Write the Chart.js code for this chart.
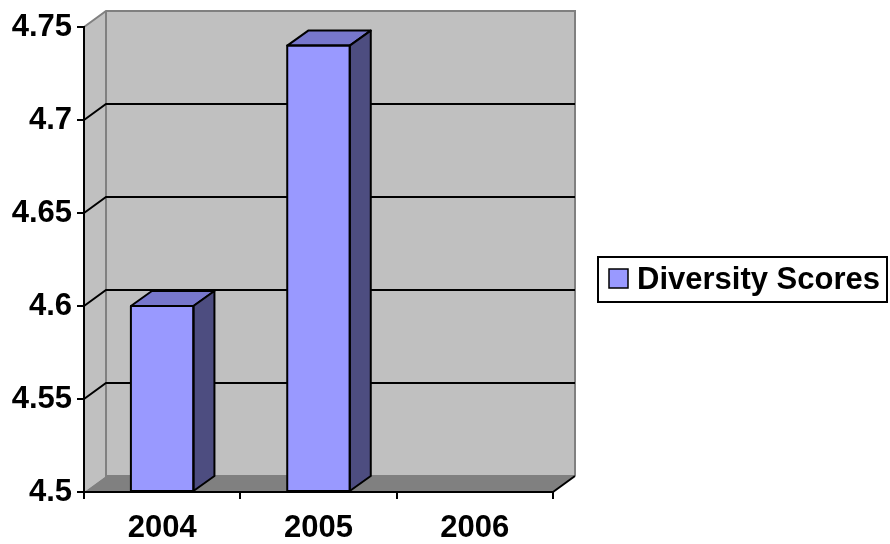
<!DOCTYPE html>
<html>
<head>
<meta charset="utf-8">
<script src="https://cdn.jsdelivr.net/npm/chart.js@4/dist/chart.umd.min.js"></script>
<style>
  html, body { margin: 0; padding: 0; background: #ffffff; }
  #wrap { width: 890px; height: 544px; }
</style>
</head>
<body>
<div id="wrap"><canvas id="c" width="890" height="544"></canvas></div>
<script>
// Chart data
const years = ['2004', '2005', '2006'];
const diversityScores = [4.6, 4.74, null];
const yTickValues = [4.5, 4.55, 4.6, 4.65, 4.7, 4.75];
const yTickLabels = ['4.5', '4.55', '4.6', '4.65', '4.7', '4.75'];
const seriesName = 'Diversity Scores';

const FONT = "Arial, 'Liberation Sans', Helvetica, sans-serif";
const FONT_SIZE = 31;
const FACE = '#9999FF', TOP = '#7777CC', SIDE = '#4D4D80';
const WALL = '#C0C0C0', FLOOR = '#808080', WALL_EDGE = '#808080';
const WALL_DX = 22, WALL_DY = 16;   // depth of the back wall
const BAR_DX = 21, BAR_DY = 15;     // depth of each column

// Side wall, back wall, floor and the wall gridlines
const wallsPlugin = {
  id: 'walls',
  beforeDraw(chart) {
    const { ctx, chartArea: a, scales: { y } } = chart;
    const L = a.left, R = a.right, T = a.top, B = a.bottom;
    ctx.save();
    // back wall
    ctx.fillStyle = WALL;
    ctx.fillRect(L + WALL_DX, T - WALL_DY, R - L, B - T);
    // left side wall
    ctx.beginPath();
    ctx.moveTo(L, T); ctx.lineTo(L + WALL_DX, T - WALL_DY);
    ctx.lineTo(L + WALL_DX, B - WALL_DY); ctx.lineTo(L, B);
    ctx.closePath(); ctx.fill();
    // floor
    ctx.fillStyle = FLOOR;
    ctx.beginPath();
    ctx.moveTo(L, B); ctx.lineTo(R, B);
    ctx.lineTo(R + WALL_DX, B - WALL_DY); ctx.lineTo(L + WALL_DX, B - WALL_DY);
    ctx.closePath(); ctx.fill();
    // wall outline
    ctx.strokeStyle = WALL_EDGE; ctx.lineWidth = 2;
    ctx.beginPath();
    ctx.moveTo(L, T); ctx.lineTo(L + WALL_DX, T - WALL_DY);
    ctx.lineTo(R + WALL_DX, T - WALL_DY); ctx.lineTo(R + WALL_DX, B - WALL_DY);
    ctx.moveTo(L + WALL_DX, T - WALL_DY); ctx.lineTo(L + WALL_DX, B - WALL_DY);
    ctx.lineTo(R + WALL_DX, B - WALL_DY);
    ctx.stroke();
    // gridlines across side wall and back wall
    ctx.strokeStyle = '#000000'; ctx.lineWidth = 2;
    yTickValues.forEach(v => {
      if (v === y.min || v === y.max) return;
      const py = Math.round(y.getPixelForValue(v));
      ctx.beginPath();
      ctx.moveTo(L, py); ctx.lineTo(L + WALL_DX, py - WALL_DY);
      ctx.lineTo(R + WALL_DX, py - WALL_DY);
      ctx.stroke();
    });
    // front floor edge on the right
    ctx.beginPath();
    ctx.moveTo(R, B); ctx.lineTo(R + WALL_DX, B - WALL_DY);
    ctx.stroke();
    ctx.restore();
  }
};

// Top and side faces of each column, taken from the bar elements
const depthPlugin = {
  id: 'depth',
  afterDatasetsDraw(chart) {
    const { ctx } = chart;
    ctx.save();
    ctx.strokeStyle = '#000000'; ctx.lineWidth = 2; ctx.lineJoin = 'round';
    chart.getDatasetMeta(0).data.forEach((bar, i) => {
      if (diversityScores[i] == null) return;
      const { x, y, base, width } = bar.getProps(['x', 'y', 'base', 'width'], true);
      const l = x - width / 2, r = x + width / 2;
      ctx.fillStyle = TOP;
      ctx.beginPath();
      ctx.moveTo(l, y); ctx.lineTo(l + BAR_DX, y - BAR_DY);
      ctx.lineTo(r + BAR_DX, y - BAR_DY); ctx.lineTo(r, y);
      ctx.closePath(); ctx.fill(); ctx.stroke();
      ctx.fillStyle = SIDE;
      ctx.beginPath();
      ctx.moveTo(r, y); ctx.lineTo(r + BAR_DX, y - BAR_DY);
      ctx.lineTo(r + BAR_DX, base - BAR_DY); ctx.lineTo(r, base);
      ctx.closePath(); ctx.fill(); ctx.stroke();
      ctx.strokeRect(l, y, r - l, base - y);
    });
    ctx.restore();
  }
};

// Boxed legend on the right
const boxLegendPlugin = {
  id: 'boxLegend',
  afterDraw(chart) {
    const { ctx } = chart;
    const ds = chart.data.datasets[0];
    ctx.save();
    ctx.strokeStyle = '#000000'; ctx.lineWidth = 2;
    ctx.strokeRect(598, 257, 289, 45);
    ctx.fillStyle = ds.backgroundColor;
    ctx.fillRect(609, 269, 19, 19);
    ctx.strokeStyle = '#000000'; ctx.lineWidth = 1.5;
    ctx.strokeRect(609, 269, 19, 19);
    ctx.fillStyle = '#000000';
    ctx.font = 'bold ' + FONT_SIZE + 'px ' + FONT;
    ctx.textBaseline = 'middle';
    ctx.fillText(ds.label, 637, 280);
    ctx.restore();
  }
};

new Chart(document.getElementById('c'), {
  type: 'bar',
  data: {
    labels: years,
    datasets: [{
      label: seriesName,
      data: diversityScores,
      base: 4.5,
      backgroundColor: FACE,
      borderColor: '#000000',
      borderWidth: 0,
      categoryPercentage: 1.0,
      barPercentage: 0.4
    }]
  },
  options: {
    responsive: false,
    devicePixelRatio: 1,
    animation: false,
    layout: { padding: { top: 27, right: 337, left: 0, bottom: 0 } },
    plugins: { legend: { display: false }, tooltip: { enabled: false } },
    scales: {
      x: {
        offset: true,
        grid: { offset: true, drawOnChartArea: false, drawTicks: true, tickLength: 7, color: '#000000', lineWidth: 2 },
        border: { display: true, color: '#000000', width: 2 },
        ticks: { color: '#000000', font: { family: FONT, size: FONT_SIZE, weight: 'bold' }, padding: 11, maxRotation: 0 },
        afterFit(s) { s.height = 52; }
      },
      y: {
        min: 4.5,
        max: 4.75,
        afterBuildTicks(s) { s.ticks = yTickValues.map(v => ({ value: v })); },
        grid: { drawOnChartArea: false, drawTicks: true, tickLength: 7, color: '#000000', lineWidth: 2 },
        border: { display: true, color: '#000000', width: 2 },
        ticks: {
          color: '#000000', padding: 5,
          font: { family: FONT, size: FONT_SIZE, weight: 'bold' },
          callback(value, index) { return yTickLabels[index]; }
        },
        afterFit(s) { s.width = 84; }
      }
    }
  },
  plugins: [wallsPlugin, depthPlugin, boxLegendPlugin]
});
</script>
</body>
</html>
